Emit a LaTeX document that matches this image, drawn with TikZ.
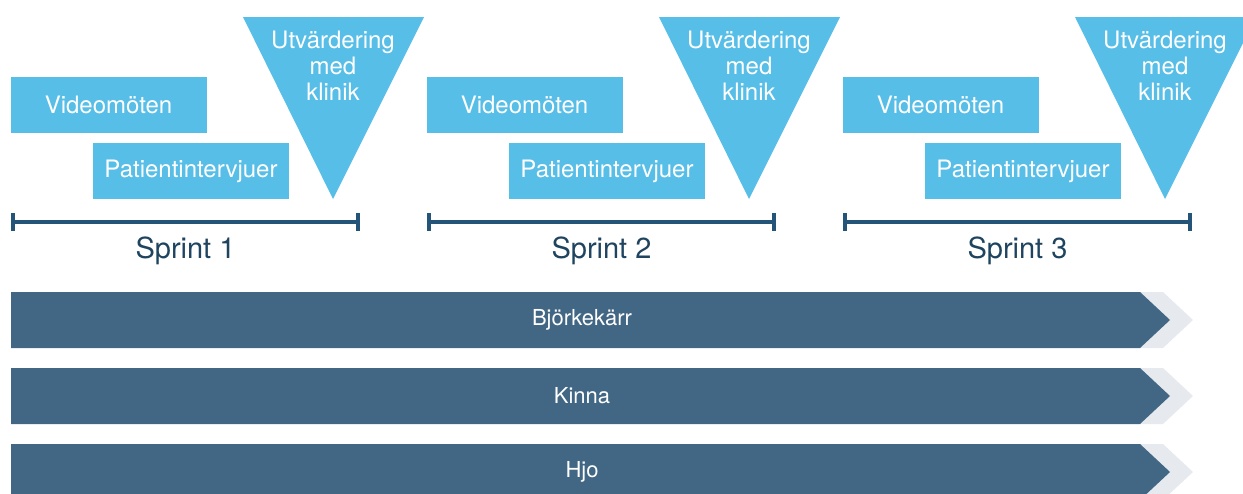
\documentclass[tikz,border=0pt]{standalone}
\usepackage{fontspec}
\setmainfont{TeX Gyre Heros}
\usetikzlibrary{arrows.meta,positioning}
\definecolor{skyblue}{HTML}{57BEE8}
\definecolor{barblue}{HTML}{426785}
\definecolor{lineblue}{HTML}{245478}
\definecolor{textblue}{HTML}{1F4460}
\definecolor{chevgrey}{HTML}{E6EAEE}

\begin{document}
\begin{tikzpicture}[x=0.5pt, y=-0.5pt,
    activity/.style={fill=skyblue, text=white, minimum width=98pt, minimum height=28pt,
      inner sep=0pt, font=\fontsize{12}{14}\selectfont},
    evaltext/.style={text=white, align=center, inner sep=0pt, font=\fontsize{12}{13}\selectfont},
    timeline/.style={draw=lineblue, line width=2pt, {Bar[width=9pt]}-{Bar[width=9pt]}},
    sprintlabel/.style={text=textblue, font=\fontsize{14.5}{16}\selectfont},
    sitelabel/.style={text=white, font=\fontsize{11}{13}\selectfont}]
    \useasboundingbox (0,0) rectangle (1243,493);

    % sprints
    \foreach \n in {1,2,3} {
      \begin{scope}[shift={({(\n-1)*416},0)}]
        \node[activity] (video\n) at (108.5,105) {Videomöten};
        \node[activity] (intervju\n) at (191,171) {Patientintervjuer};
        \fill[skyblue] (243,17) -- (424,17) -- (333,199) -- cycle;
        \node[evaltext] (eval\n) at (333,66) {Utvärdering\\med\\klinik};
        \coordinate (start\n) at (11,222);
        \coordinate (end\n) at (360,222);
        \draw[timeline] (start\n) -- (end\n);
        \node[sprintlabel] (sprint\n) at (185.5,251) {Sprint \n};
      \end{scope}
    }

    % sites
    \foreach \y/\name/\lbl in {292/bjorkekarr/Björkekärr, 368/kinna/Kinna, 444/hjo/Hjo} {
      \fill[chevgrey] (1140,\y) -- (1163,\y) -- (1193,\y+28) -- (1163,\y+56) -- (1140,\y+56) -- cycle;
      \fill[barblue] (11,\y) -- (1140,\y) -- (1170,\y+28) -- (1140,\y+56) -- (11,\y+56) -- cycle;
      \node[sitelabel] (\name) at (582,\y+28) {\lbl};
    }
\end{tikzpicture}
\end{document}
